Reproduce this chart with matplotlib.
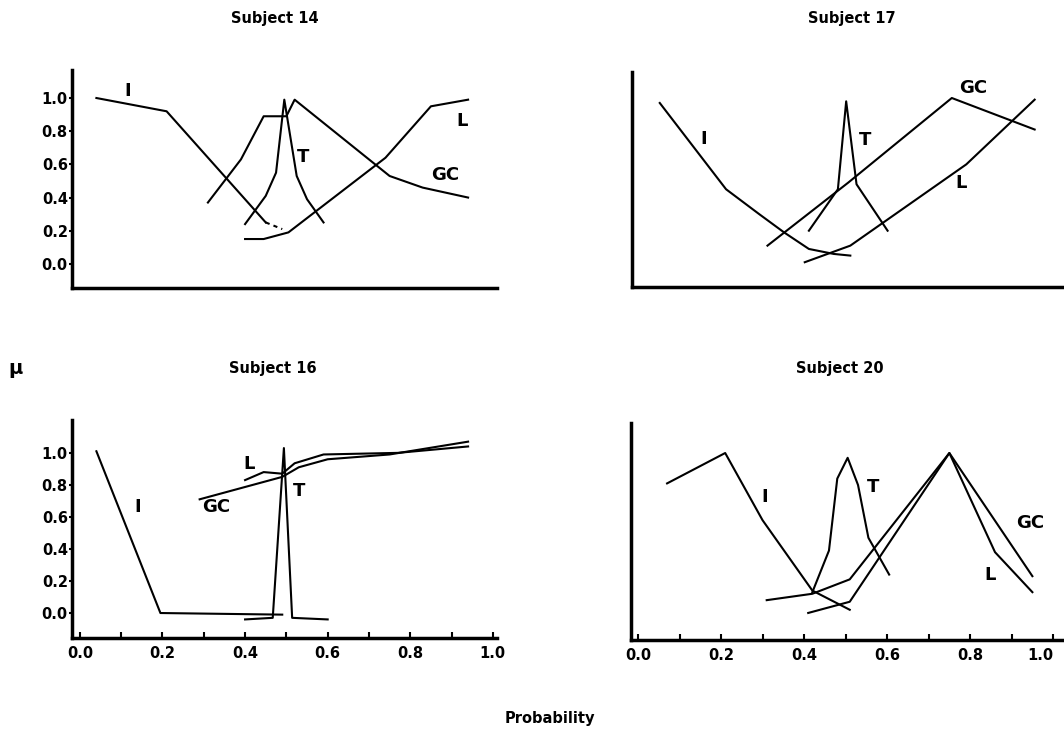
import matplotlib
matplotlib.use('Agg')
import matplotlib.pyplot as plt
from matplotlib.ticker import FixedLocator, MultipleLocator, FormatStrFormatter

plt.rcParams['font.family'] = 'DejaVu Sans'
plt.rcParams['font.weight'] = 'bold'

# ---- data (membership mu vs probability) ----
# Subject 14
s14_i_x = [0.04, 0.21, 0.45, 0.49]
s14_i_y = [1.00, 0.92, 0.25, 0.21]
s14_t_x = [0.40, 0.45, 0.475, 0.495, 0.525, 0.55, 0.59]
s14_t_y = [0.24, 0.41, 0.55, 0.99, 0.53, 0.39, 0.25]
s14_gc_x = [0.31, 0.39, 0.445, 0.50, 0.52, 0.75, 0.83, 0.94]
s14_gc_y = [0.37, 0.63, 0.89, 0.89, 0.99, 0.53, 0.46, 0.40]
s14_l_x = [0.40, 0.445, 0.505, 0.74, 0.85, 0.94]
s14_l_y = [0.15, 0.15, 0.19, 0.64, 0.95, 0.99]

# Subject 17
s17_i_x = [0.05, 0.21, 0.29, 0.35, 0.41, 0.47, 0.51]
s17_i_y = [0.97, 0.45, 0.30, 0.19, 0.09, 0.06, 0.05]
s17_t_x = [0.41, 0.48, 0.50, 0.525, 0.60]
s17_t_y = [0.20, 0.45, 0.98, 0.48, 0.20]
s17_gc_x = [0.31, 0.505, 0.755, 0.955]
s17_gc_y = [0.11, 0.49, 1.00, 0.81]
s17_l_x = [0.40, 0.51, 0.79, 0.955]
s17_l_y = [0.01, 0.11, 0.60, 0.99]

# Subject 16
s16_i_x = [0.04, 0.195, 0.49]
s16_i_y = [1.01, 0.00, -0.01]
s16_t_x = [0.40, 0.467, 0.494, 0.514, 0.60]
s16_t_y = [-0.04, -0.03, 1.03, -0.03, -0.04]
s16_gc_x = [0.29, 0.49, 0.53, 0.60, 0.75, 0.94]
s16_gc_y = [0.71, 0.85, 0.91, 0.96, 0.99, 1.07]
s16_l_x = [0.40, 0.445, 0.49, 0.52, 0.59, 0.77, 0.94]
s16_l_y = [0.83, 0.88, 0.87, 0.935, 0.99, 1.00, 1.04]

# Subject 20
s20_i_x = [0.07, 0.21, 0.30, 0.42, 0.51]
s20_i_y = [0.81, 1.00, 0.58, 0.14, 0.02]
s20_t_x = [0.42, 0.46, 0.48, 0.505, 0.53, 0.555, 0.605]
s20_t_y = [0.13, 0.39, 0.84, 0.97, 0.80, 0.47, 0.24]
s20_gc_x = [0.31, 0.42, 0.51, 0.75, 0.95]
s20_gc_y = [0.08, 0.12, 0.21, 1.00, 0.23]
s20_l_x = [0.41, 0.51, 0.75, 0.86, 0.95]
s20_l_y = [0.00, 0.07, 1.00, 0.38, 0.13]

tick_vals = [0.0, 0.2, 0.4, 0.6, 0.8, 1.0]

lw = 1.5
fs_lab = 13
fig = plt.figure(figsize=(10.64, 7.32), dpi=100)

def setup(ax, xlim, ylim, xlabels, ylabels):
    ax.set_xlim(xlim)
    ax.set_ylim(ylim)
    for s in ['top', 'right']:
        ax.spines[s].set_visible(False)
    for s in ['left', 'bottom']:
        ax.spines[s].set_linewidth(2.5)
    ax.xaxis.set_major_locator(FixedLocator(tick_vals))
    ax.xaxis.set_minor_locator(MultipleLocator(0.1))
    ax.yaxis.set_major_locator(FixedLocator(tick_vals))
    ax.xaxis.set_major_formatter(FormatStrFormatter('%.1f'))
    ax.yaxis.set_major_formatter(FormatStrFormatter('%.1f'))
    if xlabels:
        ax.tick_params(axis='x', which='both', direction='in', length=4, width=1.5,
                       labelsize=10.5, pad=6)
    else:
        ax.tick_params(axis='x', which='both', length=0, labelbottom=False)
    if ylabels:
        ax.tick_params(axis='y', direction='out', length=2, width=1.5,
                       labelsize=10.5, pad=1)
    else:
        ax.tick_params(axis='y', which='both', length=0, labelleft=False)
    for lab in ax.get_xticklabels() + ax.get_yticklabels():
        lab.set_fontweight('bold')

def tag(ax, x, y, s):
    ax.text(x, y, s, fontsize=fs_lab, fontweight='bold', ha='center', va='center')

# top-left : Subject 14
ax1 = fig.add_axes([0.0677, 0.6066, 0.3994, 0.2978])
setup(ax1, (-0.019, 1.01), (-0.145, 1.169), False, True)
ax1.plot(s14_i_x[:3], s14_i_y[:3], color='black', lw=lw)
ax1.plot(s14_i_x[2:], s14_i_y[2:], color='black', lw=lw, dashes=(2, 2))
ax1.plot(s14_t_x, s14_t_y, color='black', lw=lw)
ax1.plot(s14_gc_x, s14_gc_y, color='black', lw=lw)
ax1.plot(s14_l_x, s14_l_y, color='black', lw=lw)
tag(ax1, 0.116, 1.04, 'I')
tag(ax1, 0.54, 0.645, 'T')
tag(ax1, 0.884, 0.536, 'GC')
tag(ax1, 0.925, 0.86, 'L')

# top-right : Subject 17
ax2 = fig.add_axes([0.594, 0.608, 0.4154, 0.2937])
setup(ax2, (-0.017, 1.05), (-0.139, 1.157), False, False)
ax2.plot(s17_i_x, s17_i_y, color='black', lw=lw)
ax2.plot(s17_t_x, s17_t_y, color='black', lw=lw)
ax2.plot(s17_gc_x, s17_gc_y, color='black', lw=lw)
ax2.plot(s17_l_x, s17_l_y, color='black', lw=lw)
tag(ax2, 0.157, 0.753, 'I')
tag(ax2, 0.545, 0.747, 'T')
tag(ax2, 0.807, 1.06, 'GC')
tag(ax2, 0.778, 0.488, 'L')

# bottom-left : Subject 16
ax3 = fig.add_axes([0.0677, 0.1284, 0.3994, 0.298])
setup(ax3, (-0.019, 1.01), (-0.156, 1.206), True, True)
ax3.plot(s16_i_x, s16_i_y, color='black', lw=lw)
ax3.plot(s16_t_x, s16_t_y, color='black', lw=lw)
ax3.plot(s16_gc_x, s16_gc_y, color='black', lw=lw)
ax3.plot(s16_l_x, s16_l_y, color='black', lw=lw)
tag(ax3, 0.14, 0.66, 'I')
tag(ax3, 0.53, 0.76, 'T')
tag(ax3, 0.33, 0.66, 'GC')
tag(ax3, 0.41, 0.93, 'L')

# bottom-right : Subject 20
ax4 = fig.add_axes([0.593, 0.1257, 0.4163, 0.2964])
setup(ax4, (-0.017, 1.05), (-0.169, 1.1875), True, False)
ax4.plot(s20_i_x, s20_i_y, color='black', lw=lw)
ax4.plot(s20_t_x, s20_t_y, color='black', lw=lw)
ax4.plot(s20_gc_x, s20_gc_y, color='black', lw=lw)
ax4.plot(s20_l_x, s20_l_y, color='black', lw=lw)
tag(ax4, 0.306, 0.725, 'I')
tag(ax4, 0.566, 0.79, 'T')
tag(ax4, 0.945, 0.56, 'GC')
tag(ax4, 0.848, 0.24, 'L')
# last tick label sits at the figure edge: right-align it so it stays whole
ax4.get_xticklabels()[-1].set_horizontalalignment('right')

# titles and shared labels
fig.text(275 / 1064, 1 - 18 / 732, 'Subject 14', fontsize=10.5, fontweight='bold', ha='center', va='center')
fig.text(852 / 1064, 1 - 18 / 732, 'Subject 17', fontsize=10.5, fontweight='bold', ha='center', va='center')
fig.text(273 / 1064, 1 - 368 / 732, 'Subject 16', fontsize=10.5, fontweight='bold', ha='center', va='center')
fig.text(840 / 1064, 1 - 368 / 732, 'Subject 20', fontsize=10.5, fontweight='bold', ha='center', va='center')
fig.text(16 / 1064, 1 - 368 / 732, 'μ', fontsize=14, fontweight='bold', ha='center', va='center')
fig.text(550 / 1064, 1 - 718 / 732, 'Probability', fontsize=10.5, fontweight='bold', ha='center', va='center')

fig.savefig('out.png', dpi=100)
